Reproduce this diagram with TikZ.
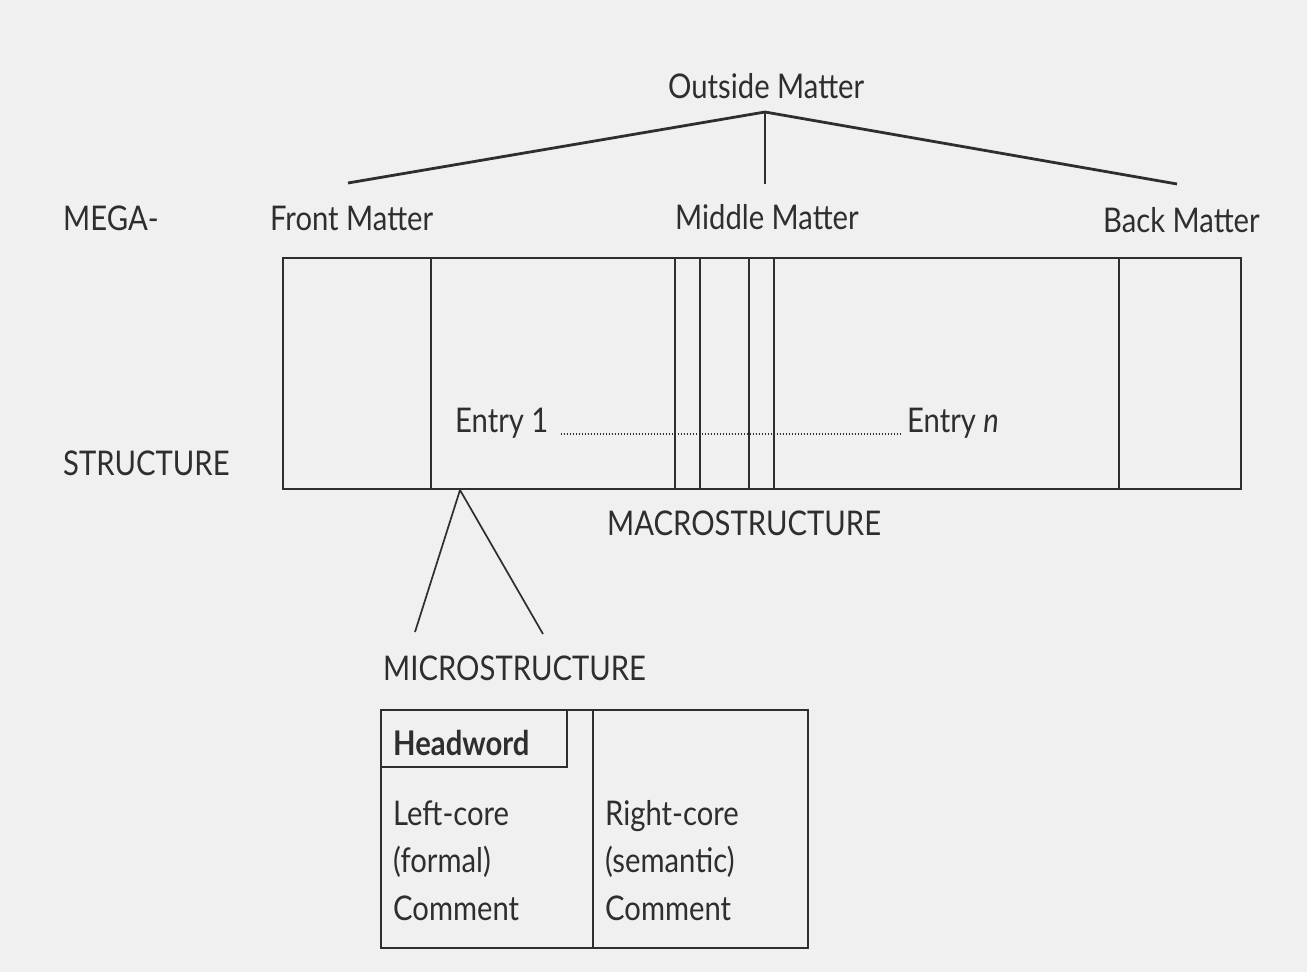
\documentclass[tikz,border=0pt]{standalone}
\usepackage{fontspec}
\setmainfont{Lato}[FakeStretch=0.86]
\begin{document}
\begin{tikzpicture}[x=1pt,y=-1pt,
  ln/.style={draw=black!82,line width=1.7pt},
  thk/.style={draw=black!82,line width=2.8pt},
  lbl/.style={anchor=base west,inner sep=0pt,font=\fontsize{34}{40}\selectfont,text=black!82}]
\fill[black!6] (0,0) rectangle (1307,972);
\useasboundingbox (0,0) rectangle (1307,972);
% top tree
\node[lbl] (out) at (668,98) {Outside Matter};
\coordinate (apex) at (765,112);
\coordinate (fm) at (348,183);
\coordinate (mm) at (765,184);
\coordinate (bm) at (1177,184);
\draw[thk] (fm) -- (apex) -- (bm);
\draw[ln] (apex) -- (mm);
\node[lbl] (mega) at (63,230) {MEGA-};
\node[lbl] (front) at (270,230) {Front Matter};
\node[lbl] (middle) at (675,229) {Middle Matter};
\node[lbl] (back) at (1103,232) {Back Matter};
\node[lbl] (struct) at (63,475) {STRUCTURE};
% macro rectangle
\coordinate (r1) at (283,258);
\coordinate (r2) at (1241,489);
\draw[ln] (r1) rectangle (r2);
\foreach \xx in {431,675,700,749,774,1119}{\draw[ln,line width=1.4pt] (\xx,258) -- (\xx,489);}
\node[lbl] (e1) at (455,432) {Entry 1};
\node[lbl] (en) at (907,432) {Entry \textit{n}};
\draw[black!82,line width=1.8pt,dash pattern=on 1.5pt off 1.5pt] ([xshift=12pt,yshift=-2pt]e1.base east) -- ([xshift=-6pt,yshift=-2pt]en.base west);
\node[lbl] (macro) at (607,535) {MACROSTRUCTURE};
% micro tree
\coordinate (mapex) at (460,490);
\coordinate (ml) at (415,632);
\coordinate (mr) at (543,634);
\draw[ln] (ml) -- (mapex) -- (mr);
\node[lbl] (micro) at (383,680) {MICROSTRUCTURE};
% micro box
\draw[ln] (381,710) rectangle (808,948);
\draw[ln] (593,710) -- (593,948);
\draw[ln] (381,767) -- (567,767) -- (567,710);
\node[lbl,font=\fontsize{34}{40}\selectfont\bfseries] (head) at (393,755) {Headword};
\node[lbl] (l1) at (393,825) {Left-core};
\node[lbl] (l2) at (393,872) {(formal)};
\node[lbl] (l3) at (393,920) {Comment};
\node[lbl] (r1t) at (605,825) {Right-core};
\node[lbl] (r2t) at (605,872) {(semantic)};
\node[lbl] (r3t) at (605,920) {Comment};
\end{tikzpicture}
\end{document}
